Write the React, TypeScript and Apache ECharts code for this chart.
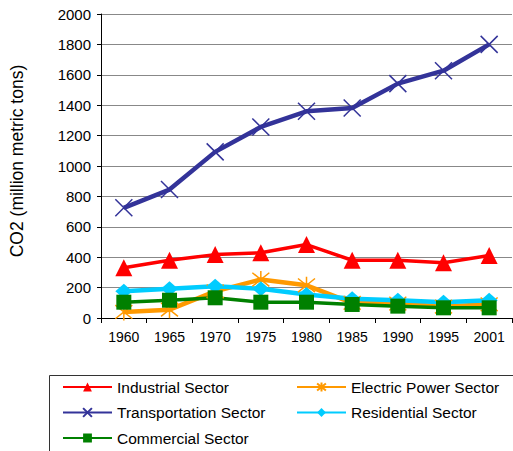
import React, { useEffect, useRef } from "react";
import * as echarts from "echarts";

const years = ["1960", "1965", "1970", "1975", "1980", "1985", "1990", "1995", "2001"];
const industrial = [330, 380, 417, 429, 483, 380, 380, 363, 411];
const electricPower = [40, 55, 175, 253, 215, 100, 95, 75, 90];
const transportation = [725, 845, 1093, 1257, 1360, 1382, 1542, 1627, 1800];
const residential = [176, 192, 209, 192, 155, 126, 117, 104, 117];
const commercial = [104, 117, 133, 104, 104, 89, 78, 67, 67];

const FONT = "Liberation Sans, Arial, sans-serif";

export default function App() {
  const ref = useRef<HTMLDivElement>(null);
  useEffect(() => {
    if (!ref.current) return;
    const chart = echarts.init(ref.current, null, { renderer: "svg" });
    const xSym = "path://M0,0L16,16M16,0L0,16";
    const starSym = "path://M0,0L16,16M16,0L0,16M8,-2L8,18";
    const legendText = { color: "#000", fontSize: 15.5, lineHeight: 15, fontFamily: FONT };
    chart.setOption({
      animation: false,
      backgroundColor: "#ffffff",
      textStyle: { fontFamily: FONT },
      grid: { left: 101, top: 14, right: 1, bottom: 133, containLabel: false },
      xAxis: {
        type: "category",
        data: years,
        boundaryGap: true,
        axisLine: { lineStyle: { color: "#000", width: 1 } },
        axisTick: { show: true, length: 5, lineStyle: { color: "#000" } },
        axisLabel: { color: "#000", fontSize: 14, margin: 12, fontFamily: FONT },
        splitLine: { show: false },
      },
      yAxis: {
        type: "value",
        min: 0,
        max: 2000,
        interval: 200,
        name: "CO2 (million metric tons)",
        nameLocation: "middle",
        nameGap: 75,
        nameRotate: 90,
        nameTextStyle: { color: "#000", fontSize: 17.5, fontFamily: FONT, padding: [0, 0, 0, 10] },
        axisLine: { show: true, lineStyle: { color: "#000", width: 1 } },
        axisTick: { show: true, inside: false, length: 4, lineStyle: { color: "#000" } },
        axisLabel: {
          color: "#000",
          fontSize: 15,
          margin: 10,
          fontFamily: FONT,
          formatter: (v: number) => String(v),
        },
        splitLine: { show: true, lineStyle: { color: "#888", width: 1 } },
      },
      legend: [
        {
          left: 62,
          top: 379,
          orient: "vertical",
          padding: 0,
          itemWidth: 49,
          itemHeight: 11,
          itemGap: 9.5,
          textStyle: legendText,
          data: ["Industrial Sector", "Transportation Sector", "Commercial Sector"],
        },
        {
          left: 296,
          top: 379,
          orient: "vertical",
          padding: 0,
          itemWidth: 49,
          itemHeight: 11,
          itemGap: 9.5,
          textStyle: legendText,
          data: ["Electric Power Sector", "Residential Sector"],
        },
      ],
      graphic: [
        {
          type: "rect",
          silent: true,
          shape: { x: 49.5, y: 375.5, width: 500, height: 100 },
          style: { fill: "none", stroke: "#333", lineWidth: 1 },
        },
      ],
      series: [
        {
          name: "Industrial Sector",
          type: "line",
          data: industrial,
          symbol: "triangle",
          symbolSize: 17,
          color: "#FF0000",
          lineStyle: { color: "#FF0000", width: 3.5 },
          itemStyle: { color: "#FF0000" },
        },
        {
          name: "Electric Power Sector",
          type: "line",
          data: electricPower,
          symbol: starSym,
          symbolSize: 17,
          color: "#FF9900",
          lineStyle: { color: "#FF9900", width: 4.5 },
          itemStyle: { color: "#FF9900", borderColor: "#FF9900", borderWidth: 1.5 },
        },
        {
          name: "Transportation Sector",
          type: "line",
          data: transportation,
          symbol: xSym,
          symbolSize: 17,
          color: "#333399",
          lineStyle: { color: "#333399", width: 4.5 },
          itemStyle: { color: "#333399", borderColor: "#333399", borderWidth: 1.5 },
        },
        {
          name: "Residential Sector",
          type: "line",
          data: residential,
          symbol: "diamond",
          symbolSize: [17, 15],
          color: "#00CCFF",
          lineStyle: { color: "#00CCFF", width: 4.5 },
          itemStyle: { color: "#00CCFF" },
        },
        {
          name: "Commercial Sector",
          type: "line",
          data: commercial,
          symbol: "rect",
          symbolSize: 15,
          color: "#008000",
          lineStyle: { color: "#008000", width: 3.5 },
          itemStyle: { color: "#008000" },
        },
      ],
    });
    return () => chart.dispose();
  }, []);
  return <div ref={ref} style={{ width: 513, height: 451, position: "absolute", left: 0, top: 0 }} />;
}
